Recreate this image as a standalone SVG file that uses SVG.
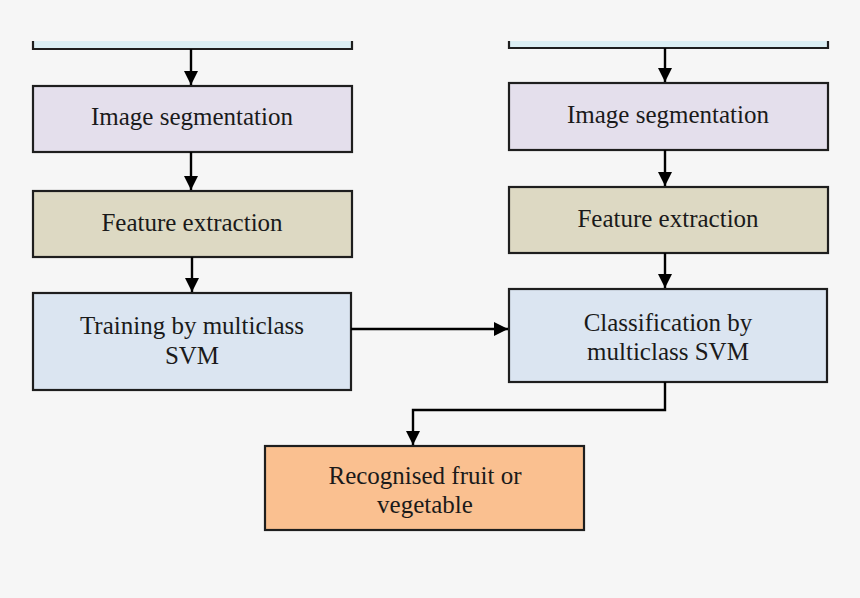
<svg xmlns="http://www.w3.org/2000/svg" width="860" height="598" viewBox="0 0 860 598">
<defs>
<style>
.box{stroke:#1e1e1e;stroke-width:2.2}
.t{font-family:"Liberation Serif","Times New Roman",serif;font-size:25px;fill:#1a1a1a;text-anchor:middle}
.c{fill:none;stroke:#000;stroke-width:2.4}
</style>
<marker id="ah" viewBox="0 0 14 14" refX="14" refY="7" markerWidth="14" markerHeight="14" markerUnits="userSpaceOnUse" orient="auto">
<path d="M0,0 L14,7 L0,14 Z" fill="#000"/>
</marker>
</defs>
<rect width="860" height="598" fill="#f6f6f6"/>
<g id="top-left">
<rect x="33" y="41" width="319" height="8" fill="#dbeef3"/>
<path class="box" fill="none" d="M33,41 V49 H352 V41"/>
</g>
<g id="top-right">
<rect x="509" y="41" width="319" height="7" fill="#dbeef3"/>
<path class="box" fill="none" d="M509,41 V48 H828 V41"/>
</g>
<g id="seg-left">
<rect class="box" x="33" y="86" width="319" height="66" fill="#e4dfec"/>
<text class="t" x="192" y="125">Image segmentation</text>
</g>
<g id="feat-left">
<rect class="box" x="33" y="191" width="319" height="66" fill="#ddd9c3"/>
<text class="t" x="192" y="231">Feature extraction</text>
</g>
<g id="train">
<rect class="box" x="33" y="293" width="318" height="97" fill="#dbe5f1"/>
<text class="t" x="192" y="334">Training by multiclass</text>
<text class="t" x="192" y="364">SVM</text>
</g>
<g id="seg-right">
<rect class="box" x="509" y="83" width="319" height="67" fill="#e4dfec"/>
<text class="t" x="668" y="123">Image segmentation</text>
</g>
<g id="feat-right">
<rect class="box" x="509" y="187" width="319" height="66" fill="#ddd9c3"/>
<text class="t" x="668" y="227">Feature extraction</text>
</g>
<g id="classify">
<rect class="box" x="509" y="289" width="318" height="93" fill="#dbe5f1"/>
<text class="t" x="668" y="331">Classification by</text>
<text class="t" x="668" y="360">multiclass SVM</text>
</g>
<g id="result">
<rect class="box" x="265" y="446" width="319" height="84" fill="#fac090"/>
<text class="t" x="425" y="484">Recognised fruit or</text>
<text class="t" x="425" y="513">vegetable</text>
</g>
<g id="connectors">
<path class="c" marker-end="url(#ah)" d="M191,49 V85"/>
<path class="c" marker-end="url(#ah)" d="M191,152 V190"/>
<path class="c" marker-end="url(#ah)" d="M192,257 V292"/>
<path class="c" marker-end="url(#ah)" d="M665,48 V82"/>
<path class="c" marker-end="url(#ah)" d="M665,150 V186"/>
<path class="c" marker-end="url(#ah)" d="M665,253 V288"/>
<path class="c" marker-end="url(#ah)" d="M351,329 H508"/>
<path class="c" marker-end="url(#ah)" d="M665,382 V410 H413 V445"/>
</g>
</svg>
